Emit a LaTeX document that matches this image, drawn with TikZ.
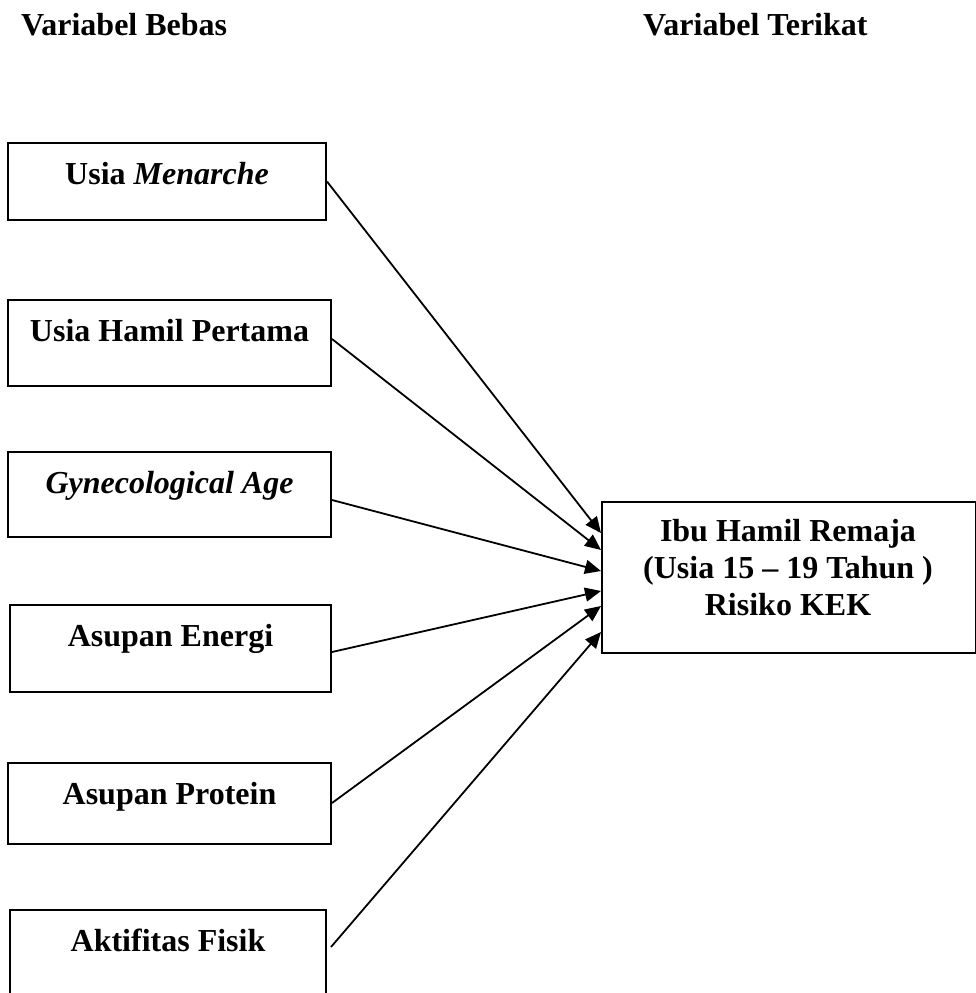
\documentclass[tikz,border=0pt]{standalone}
\usepackage{fontspec}
\setmainfont{Liberation Serif}
\usetikzlibrary{arrows.meta,calc}
\begin{document}
\begin{tikzpicture}[x=1pt,y=-1pt,
  varbox/.style={draw,line width=2pt,inner xsep=0pt,inner ysep=0pt,anchor=north,
    text height=41pt,font=\fontsize{32}{36.7}\selectfont\bfseries},
  arr/.style={line width=1.8pt,-{Triangle[length=16pt,width=14pt]}},
  title/.style={font=\fontsize{32}{36.7}\selectfont\bfseries,anchor=base west,inner sep=0pt}]
\clip (0,0) rectangle (976,993);
\fill[white] (0,0) rectangle (976,993);
\node[title] (tb) at (21,35) {Variabel Bebas};
\node[title] (tt) at (643,35) {Variabel Terikat};
\node[varbox,minimum width=318pt,text depth=36pt] (b1) at (167,142) {Usia \textit{Menarche}};
\node[varbox,minimum width=323pt,text depth=45pt] (b2) at (169.5,299) {Usia Hamil Pertama};
\node[varbox,minimum width=323pt,text depth=44pt] (b3) at (169.5,451) {\textit{Gynecological Age}};
\node[varbox,minimum width=321pt,text depth=46pt] (b4) at (170.5,604) {Asupan Energi};
\node[varbox,minimum width=323pt,text depth=40pt] (b5) at (169.5,762) {Asupan Protein};
\node[varbox,minimum width=316pt,text depth=59pt] (b6) at (168,909) {Aktifitas Fisik};
\node[draw,line width=2pt,minimum width=374pt,minimum height=151pt,anchor=north west,inner sep=0pt] (t) at (601,501) {};
\node[align=center,anchor=north,inner sep=0pt,font=\fontsize{32}{36.7}\selectfont\bfseries] (tl) at (788,519.5) {Ibu Hamil Remaja\\(Usia 15 – 19 Tahun )\\Risiko KEK};
\draw[arr] (b1.east) -- (t.west |- 0,533);
\draw[arr] (b2.east |- 0,339) -- (t.west |- 0,550);
\draw[arr] (b3.east |- 0,500) -- (t.west |- 0,571);
\draw[arr] (b4.east |- 0,652) -- (t.west |- 0,591);
\draw[arr] (b5.east |- 0,803) -- (t.west |- 0,606);
\draw[arr] ($(b6.east |- 0,947)+(4,0)$) -- (t.west |- 0,632);
\end{tikzpicture}
\end{document}
